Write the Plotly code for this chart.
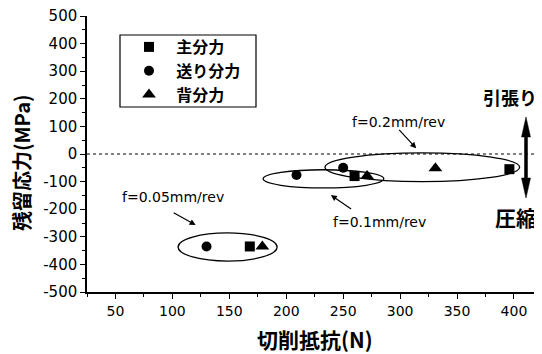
import plotly.graph_objects as go

# ---- data ----
series_names = ["主分力", "送り分力", "背分力"]
feed_labels = ["f=0.05mm/rev", "f=0.1mm/rev", "f=0.2mm/rev"]

main_force = [168, 260, 396]      # 主分力 (N)
main_stress = [-335, -80, -55]    # MPa
feed_force = [130, 209, 250]      # 送り分力 (N)
feed_stress = [-335, -76, -50]
back_force = [179, 271, 331]      # 背分力 (N)
back_stress = [-335, -80, -52]

x_ticks = [50, 100, 150, 200, 250, 300, 350, 400]
y_ticks = [500, 400, 300, 200, 100, 0, -100, -200, -300, -400, -500]

# ellipse groups (data units): center x, center y, half-width, half-height
ell_cx = [148.5, 232.7, 319.5]
ell_cy = [-337, -90, -48]
ell_rx = [43.5, 53, 85.5]
ell_ry = [51, 33, 52]

FONT = "DejaVu Sans, Arial, sans-serif"
CJK = "Noto Sans CJK JP, Noto Sans, sans-serif"

# page body has an 8px default margin: the figure is sized to fit inside the window
PAD = 8
PW, PH = 452, 276                      # plot area size in px
L, T = 87 - PAD, 16 - PAD              # plot-area origin inside the figure


def px_x(v):   # window px -> paper x
    return (v - 87) / PW


def px_y(v):   # window px -> paper y
    return (292 - v) / PH


fig = go.Figure()
symbols = ["square", "circle", "triangle-up"]
sizes = [10, 10, 12]
for name, xs, ys, sym, sz in zip(series_names,
                                 [main_force, feed_force, back_force],
                                 [main_stress, feed_stress, back_stress],
                                 symbols, sizes):
    fig.add_trace(go.Scatter(x=xs, y=ys, mode="markers", name="\u00a0\u00a0" + name,
                             marker=dict(symbol=sym, size=sz, color="black")))

shapes = []
# zero dashed line
shapes.append(dict(type="line", xref="paper", yref="y", x0=0, x1=1, y0=0, y1=0,
                   line=dict(color="black", width=1, dash="3px,3px")))
for cx, cy, rx, ry in zip(ell_cx, ell_cy, ell_rx, ell_ry):
    shapes.append(dict(type="circle", xref="x", yref="y",
                       x0=cx - rx, x1=cx + rx, y0=cy - ry, y1=cy + ry,
                       line=dict(color="black", width=1.3)))
# legend frame
shapes.append(dict(type="rect", xref="paper", yref="paper",
                   x0=px_x(120), x1=px_x(256), y0=px_y(107), y1=px_y(35),
                   line=dict(color="black", width=1.2)))
# tension / compression double arrow (narrow heads)
ax_c, hw, sw = 526, 4.5, 1.5
top_tip, top_base, bot_base, bot_tip = 117, 137, 178, 198
path = (f"M{px_x(ax_c)},{px_y(top_tip)} L{px_x(ax_c + hw)},{px_y(top_base)} "
        f"L{px_x(ax_c + sw)},{px_y(top_base)} L{px_x(ax_c + sw)},{px_y(bot_base)} "
        f"L{px_x(ax_c + hw)},{px_y(bot_base)} L{px_x(ax_c)},{px_y(bot_tip)} "
        f"L{px_x(ax_c - hw)},{px_y(bot_base)} L{px_x(ax_c - sw)},{px_y(bot_base)} "
        f"L{px_x(ax_c - sw)},{px_y(top_base)} L{px_x(ax_c - hw)},{px_y(top_base)} Z")
shapes.append(dict(type="path", xref="paper", yref="paper", path=path,
                   fillcolor="black", line=dict(color="black", width=0.5)))

annotations = []
# feed labels
label_pos = [(54, -156), (239, -245), (256, 117)]
for txt, (lx, ly) in zip(feed_labels, label_pos):
    annotations.append(dict(x=lx, y=ly, xref="x", yref="y", text=txt, showarrow=False,
                            xanchor="left", yanchor="middle",
                            font=dict(family=FONT, size=14, color="black")))
# pointer arrows (tail -> head)
arrows = [((99.8, -210), (120.4, -257)),
          ((258.3, -203), (239.2, -148.6)),
          ((298, 93), (314.1, 20.7))]
for (tx, ty), (hx, hy) in arrows:
    annotations.append(dict(x=hx, y=hy, ax=tx, ay=ty, xref="x", yref="y",
                            axref="x", ayref="y", text="", showarrow=True,
                            arrowhead=2, arrowsize=1, arrowwidth=1.2, arrowcolor="black"))
annotations.append(dict(x=px_x(510), y=px_y(97), xref="paper", yref="paper",
                        text="<b>引張り</b>", showarrow=False, xanchor="center", yanchor="middle",
                        font=dict(family=CJK, size=18, color="black")))
annotations.append(dict(x=px_x(516), y=px_y(217), xref="paper", yref="paper",
                        text="<b>圧縮</b>", showarrow=False, xanchor="center", yanchor="middle",
                        font=dict(family=CJK, size=21, color="black")))
# axis titles
annotations.append(dict(x=px_x(315), y=px_y(339), xref="paper", yref="paper",
                        text="<b>切削抵抗(N)</b>", showarrow=False, xanchor="center", yanchor="middle",
                        font=dict(family=CJK, size=21, color="black")))
annotations.append(dict(x=px_x(22), y=px_y(163), xref="paper", yref="paper",
                        text="<b>残留応力(MPa)</b>", showarrow=False, xanchor="center", yanchor="middle",
                        textangle=-90, font=dict(family=CJK, size=20, color="black")))

fig.update_layout(
    width=542 - PAD, height=354 - PAD,
    margin=dict(l=L, r=542 - PAD - L - PW, t=T, b=354 - PAD - T - PH, autoexpand=False),
    paper_bgcolor="white", plot_bgcolor="white",
    showlegend=True,
    legend=dict(x=px_x(129), y=px_y(30), xanchor="left", yanchor="top",
                borderwidth=0, bgcolor="rgba(0,0,0,0)",
                font=dict(family=CJK, size=16, color="black", weight="bold"),
                tracegroupgap=0),
    shapes=shapes, annotations=annotations,
    xaxis=dict(range=[25, 422], tickvals=x_ticks, ticktext=[str(v) for v in x_ticks],
               automargin=False, ticklabeloverflow="allow",
               showgrid=False, zeroline=False, showline=True, linecolor="black", linewidth=1.5,
               ticks="outside", ticklen=5, tickwidth=1.2, tickcolor="black",
               minor=dict(dtick=25, ticks="outside", ticklen=3, tickcolor="black", tick0=0),
               tickfont=dict(family=FONT, size=14, color="black")),
    yaxis=dict(range=[-500, 500], tickvals=y_ticks, ticktext=[str(v) for v in y_ticks],
               automargin=False, ticklabeloverflow="allow",
               showgrid=False, zeroline=False, showline=True, linecolor="black", linewidth=1.5,
               ticks="outside", ticklen=5, tickwidth=1.2, tickcolor="black",
               minor=dict(dtick=50, ticks="outside", ticklen=3, tickcolor="black", tick0=0),
               tickfont=dict(family=FONT, size=15, color="black")),
)

fig.write_html("out.html")
